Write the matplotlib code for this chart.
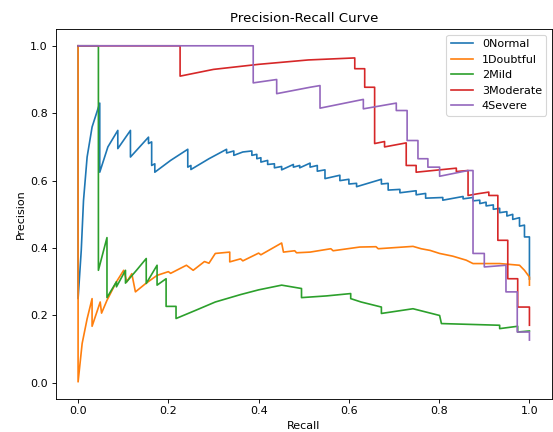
import matplotlib
matplotlib.use("Agg")
import matplotlib.pyplot as plt

class_names = ["0Normal", "1Doubtful", "2Mild", "3Moderate", "4Severe"]

# (recall, precision) vertices
normal_pts = [
    (0.000, 1.000), (0.000, 0.250), (0.007, 0.393), (0.012, 0.541), (0.020, 0.670),
    (0.031, 0.759), (0.048, 0.830), (0.048, 0.625), (0.066, 0.700), (0.088, 0.749),
    (0.088, 0.695), (0.116, 0.749), (0.116, 0.670), (0.156, 0.729), (0.156, 0.710),
    (0.163, 0.715), (0.163, 0.645), (0.170, 0.650), (0.170, 0.625), (0.205, 0.660),
    (0.243, 0.693), (0.243, 0.640), (0.250, 0.645), (0.250, 0.633), (0.290, 0.665),
    (0.329, 0.693), (0.329, 0.682), (0.345, 0.688), (0.345, 0.675), (0.365, 0.685),
    (0.385, 0.688), (0.385, 0.675), (0.396, 0.678), (0.396, 0.665), (0.405, 0.668),
    (0.405, 0.655), (0.420, 0.660), (0.420, 0.648), (0.435, 0.650), (0.435, 0.638),
    (0.451, 0.642), (0.451, 0.632), (0.477, 0.648), (0.477, 0.640), (0.491, 0.645),
    (0.491, 0.638), (0.514, 0.652), (0.514, 0.640), (0.530, 0.645), (0.530, 0.628),
    (0.547, 0.632), (0.547, 0.606), (0.580, 0.616), (0.580, 0.600), (0.600, 0.604),
    (0.600, 0.590), (0.617, 0.592), (0.617, 0.582), (0.672, 0.604), (0.672, 0.590),
    (0.687, 0.592), (0.687, 0.572), (0.713, 0.574), (0.713, 0.564), (0.749, 0.570),
    (0.749, 0.558), (0.770, 0.562), (0.770, 0.548), (0.808, 0.550), (0.808, 0.542),
    (0.853, 0.553), (0.853, 0.546), (0.875, 0.550), (0.875, 0.540), (0.890, 0.542),
    (0.890, 0.532), (0.904, 0.536), (0.904, 0.525), (0.920, 0.528), (0.920, 0.515),
    (0.934, 0.518), (0.934, 0.505), (0.950, 0.508), (0.950, 0.495), (0.963, 0.500),
    (0.963, 0.485), (0.978, 0.490), (0.978, 0.465), (0.989, 0.468), (0.989, 0.433),
    (1.000, 0.433), (1.000, 0.308),
]

doubtful_pts = [
    (0.000, 1.000), (0.000, 0.003), (0.009, 0.117), (0.020, 0.190), (0.031, 0.250),
    (0.031, 0.168), (0.049, 0.240), (0.052, 0.207), (0.064, 0.245), (0.085, 0.300),
    (0.101, 0.334), (0.108, 0.300), (0.119, 0.324), (0.127, 0.270), (0.150, 0.295),
    (0.175, 0.319), (0.200, 0.330), (0.205, 0.325), (0.240, 0.349), (0.255, 0.334),
    (0.280, 0.360), (0.290, 0.355), (0.304, 0.384), (0.336, 0.388), (0.336, 0.359),
    (0.360, 0.368), (0.365, 0.362), (0.400, 0.385), (0.405, 0.380), (0.451, 0.415),
    (0.455, 0.388), (0.480, 0.392), (0.484, 0.386), (0.514, 0.388), (0.560, 0.398),
    (0.565, 0.392), (0.624, 0.403), (0.660, 0.404), (0.665, 0.398), (0.742, 0.405),
    (0.760, 0.398), (0.780, 0.393), (0.801, 0.384), (0.830, 0.376), (0.860, 0.364),
    (0.875, 0.354), (0.934, 0.354), (0.978, 0.349), (0.989, 0.334), (1.000, 0.314),
    (1.000, 0.290),
]

mild_pts = [
    (0.000, 1.000), (0.045, 1.000), (0.045, 0.334), (0.064, 0.431), (0.064, 0.253),
    (0.085, 0.300), (0.085, 0.285), (0.105, 0.334), (0.105, 0.296), (0.130, 0.335),
    (0.151, 0.369), (0.151, 0.295), (0.175, 0.349), (0.175, 0.290), (0.195, 0.309),
    (0.195, 0.227), (0.217, 0.227), (0.217, 0.191), (0.260, 0.215), (0.304, 0.240),
    (0.360, 0.262), (0.400, 0.276), (0.451, 0.290), (0.495, 0.280), (0.495, 0.253),
    (0.550, 0.258), (0.604, 0.265), (0.604, 0.250), (0.627, 0.240), (0.672, 0.225),
    (0.672, 0.206), (0.742, 0.220), (0.801, 0.200), (0.805, 0.176), (0.934, 0.171),
    (0.934, 0.161), (0.974, 0.168), (0.974, 0.151), (1.000, 0.154),
]

moderate_pts = [
    (0.000, 1.000), (0.226, 1.000), (0.226, 0.910), (0.300, 0.930), (0.400, 0.945),
    (0.510, 0.958), (0.613, 0.964), (0.613, 0.932), (0.635, 0.932), (0.635, 0.877),
    (0.657, 0.877), (0.657, 0.710), (0.679, 0.716), (0.679, 0.700), (0.727, 0.712),
    (0.727, 0.645), (0.749, 0.645), (0.749, 0.625), (0.838, 0.637), (0.838, 0.627),
    (0.864, 0.630), (0.864, 0.556), (0.885, 0.561), (0.910, 0.566), (0.910, 0.556),
    (0.930, 0.556), (0.930, 0.423), (0.952, 0.423), (0.952, 0.309), (0.974, 0.309),
    (0.974, 0.225), (1.000, 0.225), (1.000, 0.171),
]

severe_pts = [
    (0.000, 1.000), (0.388, 1.000), (0.388, 0.890), (0.440, 0.900), (0.440, 0.858),
    (0.514, 0.877), (0.536, 0.882), (0.536, 0.815), (0.632, 0.841), (0.632, 0.813),
    (0.705, 0.830), (0.705, 0.808), (0.729, 0.808), (0.729, 0.719), (0.753, 0.719),
    (0.753, 0.665), (0.775, 0.665), (0.775, 0.640), (0.801, 0.640), (0.801, 0.613),
    (0.864, 0.630), (0.875, 0.630), (0.875, 0.384), (0.900, 0.384), (0.900, 0.344),
    (0.948, 0.349), (0.948, 0.270), (0.973, 0.270), (0.973, 0.151), (1.000, 0.151),
    (1.000, 0.127),
]

all_curves = [normal_pts, doubtful_pts, mild_pts, moderate_pts, severe_pts]

# reference looks like a larger figure scaled down, so render at 80 dpi
fig = plt.figure(figsize=(553 / 80, 432 / 80), dpi=80)
ax = fig.add_axes([0.1004, 0.0771, 0.8978, 0.8558])

for name, pts in zip(class_names, all_curves):
    recall = [p[0] for p in pts]
    precision = [p[1] for p in pts]
    ax.plot(recall, precision, label=name)

ax.set_title("Precision-Recall Curve")
ax.set_xlabel("Recall")
ax.set_ylabel("Precision")
ax.legend(loc="upper right")

fig.savefig("out.png", dpi=80)
